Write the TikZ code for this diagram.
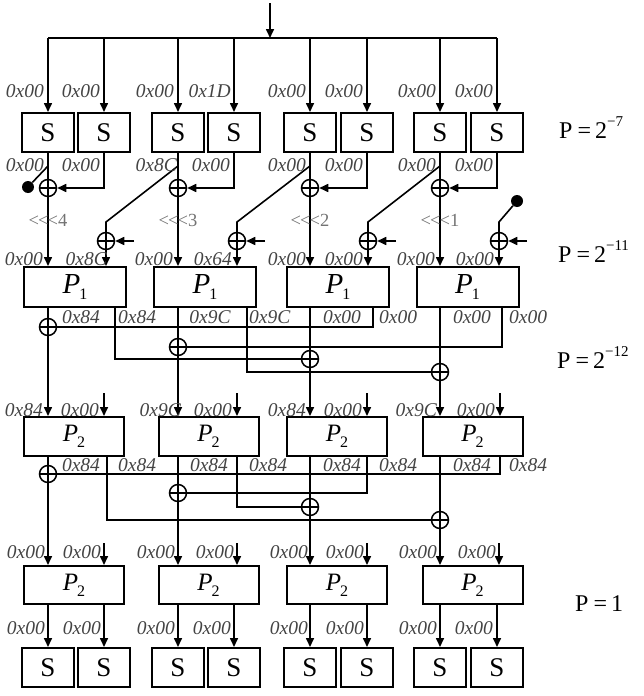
\documentclass[tikz,border=0pt]{standalone}
\usepackage{fontspec}
\setmainfont{Liberation Serif}
\newfontfamily\shfont{Liberation Serif}[Ligatures=TeXOff]
\usetikzlibrary{arrows.meta}
\definecolor{labgray}{RGB}{68,68,68}
\definecolor{shgray}{RGB}{115,115,115}
\newcommand\myP[2]{{\fontsize{#2}{#2}\selectfont\itshape P}\kern-1pt\raisebox{-6pt}{\fontsize{16}{16}\selectfont #1}}
\newcommand\myprob[2]{P\kern5pt=\kern4pt#1\raisebox{12pt}{\fontsize{15}{15}\selectfont #2}}
\begin{document}
\begin{tikzpicture}[x=1pt,y=-1pt,
  wire/.style={line width=1.6pt},
  arr/.style={line width=1.6pt,-{Triangle[length=9pt,width=8pt]}},
  sbox/.style={draw,line width=2pt,minimum width=52pt,minimum height=39pt,inner sep=0pt,font=\fontsize{27}{27}\selectfont},
  pbox/.style={draw,line width=2pt,minimum width=102pt,minimum height=40pt,inner sep=0pt},
  qbox/.style={draw,line width=2pt,minimum width=100pt,minimum height=39pt,inner sep=0pt},
  lab/.style={inner sep=0pt,text=labgray,font=\fontsize{19.5}{19.5}\selectfont\itshape},
  shl/.style={inner sep=0pt,text=shgray,font=\shfont\fontsize{18.5}{18.5}\selectfont},
  prob/.style={inner sep=0pt,anchor=base west,font=\fontsize{24}{24}\selectfont},
  xo/.style={circle,draw,line width=1.5pt,minimum size=17pt,inner sep=0pt,
     path picture={\draw[line width=1.5pt] (path picture bounding box.north)--(path picture bounding box.south) (path picture bounding box.west)--(path picture bounding box.east);}},
  dot/.style={circle,fill,inner sep=0pt,minimum size=12pt}]
\useasboundingbox (0,0) rectangle (644,696);

% input bus
\coordinate (in) at (270,3);
\coordinate (bus) at (270,38);
\coordinate (busL) at (48,38);
\coordinate (busR) at (497,38);
\draw[arr] (in) -- (bus);
\draw[wire] (busL) -- (busR);

% S boxes
\foreach \n/\x in {1/48,2/104,3/178,4/234,5/310,6/367,7/440,8/497}{
  \node[sbox] (sT\n) at (\x,132.5) {S};
  \node[sbox] (sB\n) at (\x,667.5) {S};
  \draw[arr] (sT\n.north |- bus) -- (sT\n.north);
}

% first xor row
\foreach \i/\a/\b/\x in {1/1/2/48,2/3/4/178,3/5/6/310,4/7/8/440}{
  \node[xo] (xa\i) at (\x,188) {};
  \coordinate (br\i) at (\x,166);
  \draw[wire] (sT\a.south) -- (xa\i.north);
  \draw[arr] (sT\b.south) |- (xa\i.east);
}

% P1 boxes and second xors
\foreach \i/\c/\r in {1/75/106,2/205/237,3/338/368,4/467.5/499}{
  \node[pbox] (pa\i) at (\c,287) {\myP{1}{29}};
  \node[xo] (xb\i) at (\r,241) {};
  \coordinate (kb\i) at (\r,222);
  \coordinate (ka\i) at (\r+28,241);
  \draw[arr] (ka\i) -- (xb\i.east);
  \draw[arr] (xb\i.south) -- (xb\i.south |- pa\i.north);
  \draw[arr] (xa\i.south) -- (xa\i.south |- pa\i.north);
}
\draw[wire] (br2) -- (kb1) -- (xb1.north);
\draw[wire] (br3) -- (kb2) -- (xb2.north);
\draw[wire] (br4) -- (kb3) -- (xb3.north);
\node[dot] (d1) at (28,187) {};
\draw[wire] (br1) -- (d1);
\node[dot] (d2) at (517,201) {};
\draw[wire] (d2) -- (kb4) -- (xb4.north);

\foreach \i/\x/\k in {1/48/4,2/178/3,3/310/2,4/440/1}
  \node[shl] (sh\i) at (\x,220) {<\kern-1pt<\kern-1pt<\k};

% first mixing layer
\foreach \i/\x/\y in {1/48/327,2/178/347,3/310/359,4/440/372}{
  \node[xo] (xc\i) at (\x,\y) {};
  \draw[wire] (pa\i.south -| xc\i) -- (xc\i.north);
}
\foreach \i/\x in {1/115,2/247,3/373,4/502} \coordinate (po\i) at (\x,307);
\draw[wire] (po3) |- (xc1.east);
\draw[wire] (po4) |- (xc2.east);
\draw[wire] (po1) |- (xc3.west);
\draw[wire] (po2) |- (xc4.west);

% P2 row 2
\foreach \i/\c/\r in {1/74/104,2/208.5/237,3/337/367,4/472.5/500}{
  \node[qbox] (pb\i) at (\c,436.5) {\myP{2}{25}};
  \coordinate (pbi\i) at (\r,393);
  \draw[arr] (pbi\i) -- (pbi\i |- pb\i.north);
  \draw[arr] (xc\i.south) -- (xc\i.south |- pb\i.north);
}

% second mixing layer
\foreach \i/\x/\y in {1/48/474,2/178/493,3/310/507,4/440/520}{
  \node[xo] (xd\i) at (\x,\y) {};
  \draw[wire] (pb\i.south -| xd\i) -- (xd\i.north);
}
\foreach \i/\x in {1/107,2/237,3/367,4/500} \coordinate (qo\i) at (\x,456);
\draw[wire] (qo4) |- (xd1.east);
\draw[wire] (qo3) |- (xd2.east);
\draw[wire] (qo2) |- (xd3.west);
\draw[wire] (qo1) |- (xd4.west);

% P2 row 3
\foreach \i/\c/\r/\a/\b in {1/74/104/1/2,2/208.5/237/3/4,3/337/367/5/6,4/472.5/499/7/8}{
  \node[qbox,minimum height=38pt] (pc\i) at (\c,585) {\myP{2}{25}};
  \coordinate (pci\i) at (\r,543);
  \draw[arr] (pci\i) -- (pci\i |- pc\i.north);
  \draw[arr] (xd\i.south) -- (xd\i.south |- pc\i.north);
  \draw[arr] (pc\i.south -| sB\a.north) -- (sB\a.north);
  \draw[arr] (pc\i.south -| sB\b.north) -- (sB\b.north);
}

% labels
\foreach \n/\x/\w in {1/44/0x00,2/100/0x00,3/174/0x00,4/231/0x1D,5/306/0x00,6/363/0x00,7/436/0x00,8/493/0x00}
  \node[lab,anchor=east] (la\n) at (\x,91) {\w};
\foreach \n/\x/\w in {1/44/0x00,2/100/0x00,3/177/0x8C,4/230/0x00,5/306/0x00,6/363/0x00,7/436/0x00,8/493/0x00}
  \node[lab,anchor=east] (lb\n) at (\x,165) {\w};
\foreach \n/\x/\w in {1/43/0x00,2/107/0x8C,3/173/0x00,4/232/0x64,5/306/0x00,6/363/0x00,7/435/0x00,8/494/0x00}
  \node[lab,anchor=east] (lc\n) at (\x,259) {\w};
\foreach \n/\x/\w in {1/81/0x84,2/210/0x9C,3/342/0x00,4/472/0x00}
  \node[lab] (ld\n) at (\x,317) {\w};
\foreach \n/\x/\w in {1/118/0x84,2/249/0x9C,3/379/0x00,4/509/0x00}
  \node[lab,anchor=west] (le\n) at (\x,317) {\w};
\foreach \n/\x/\w in {1/43/0x84,2/99/0x00,3/181/0x9C,4/232/0x00,5/306/0x84,6/362/0x00,7/437/0x9C,8/495/0x00}
  \node[lab,anchor=east] (lf\n) at (\x,410) {\w};
\foreach \n/\x in {1/81,2/209,3/342,4/472}
  \node[lab] (lg\n) at (\x,465) {0x84};
\foreach \n/\x in {1/118,2/249,3/379,4/509}
  \node[lab,anchor=west] (lh\n) at (\x,465) {0x84};
\foreach \n/\x in {1/45,2/101,3/175,4/234,5/308,6/364,7/437,8/496}
  \node[lab,anchor=east] (li\n) at (\x,552) {0x00};
\foreach \n/\x in {1/45,2/101,3/175,4/231,5/308,6/364,7/437,8/493}
  \node[lab,anchor=east] (lj\n) at (\x,628) {0x00};

% probabilities
\node[prob] (pr1) at (559,138) {\myprob{2}{−7}};
\node[prob] (pr2) at (558,262) {\myprob{2}{−11}};
\node[prob] (pr3) at (557,368) {\myprob{2}{−12}};
\node[prob] (pr4) at (575,611) {P\kern5pt=\kern4pt1};
\end{tikzpicture}
\end{document}
